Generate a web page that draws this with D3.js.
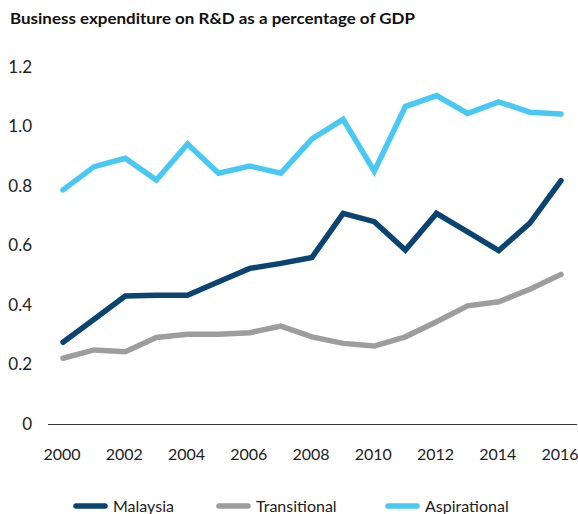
<!DOCTYPE html>
<html><head><meta charset="utf-8">
<script src="https://cdn.jsdelivr.net/npm/d3@7"></script>
<style>body{margin:0;background:#fff}svg{display:block}text{font-family:Lato,"Noto Sans",sans-serif}</style>
</head><body><svg id="c" width="578" height="514"></svg>
<script>
const years = [2000,2001,2002,2003,2004,2005,2006,2007,2008,2009,2010,2011,2012,2013,2014,2015,2016];
const malaysia = [0.275,0.352,0.43,0.433,0.433,0.478,0.523,0.540,0.560,0.708,0.680,0.585,0.708,0.646,0.583,0.675,0.818];
const transitional = [0.221,0.249,0.243,0.291,0.302,0.302,0.307,0.329,0.293,0.271,0.262,0.293,0.344,0.397,0.411,0.453,0.503];
const aspirational = [0.787,0.865,0.893,0.820,0.941,0.843,0.867,0.843,0.958,1.024,0.850,1.067,1.104,1.044,1.083,1.048,1.042];
const yTicks = [0,0.2,0.4,0.6,0.8,1.0,1.2];
const xTicks = [2000,2002,2004,2006,2008,2010,2012,2014,2016];
const seriesNames = ["Malaysia","Transitional","Aspirational"];
const colors = ["#0b4471","#9d9d9f","#4ac8f4"];

const svg = d3.select("#c");
const x = d3.scaleLinear().domain([2000,2016]).range([63,561]);
const y = d3.scaleLinear().domain([0,1.2]).range([424,67]);

svg.append("text").attr("x",10).attr("y",24).attr("font-size",16).attr("font-weight",700).attr("fill","#111")
  .attr("textLength",405).attr("lengthAdjust","spacingAndGlyphs")
  .text("Business expenditure on R&D as a percentage of GDP");

svg.append("g").selectAll("text").data(yTicks).join("text")
  .attr("x",32).attr("y",d=>y(d)).attr("dy","0.35em").attr("text-anchor","end")
  .attr("font-size",17).attr("fill","#222")
  .text(d=>d===0?"0":d3.format(".1f")(d));

svg.append("line").attr("x1",48).attr("x2",577).attr("y1",y(0)+0.5).attr("y2",y(0)+0.5)
  .attr("stroke","#333").attr("stroke-width",1);

svg.append("g").selectAll("text").data(xTicks).join("text")
  .attr("x",d=>x(d)-1).attr("y",460).attr("text-anchor","middle")
  .attr("font-size",16).attr("fill","#222").text(d=>d);

const line = d3.line().x((d,i)=>x(years[i])).y(d=>y(d));
const all = [malaysia,transitional,aspirational];
[1,0,2].forEach(k=>{
  svg.append("path").attr("d",line(all[k])).attr("fill","none")
    .attr("stroke",colors[k]).attr("stroke-width",5.5)
    .attr("stroke-linejoin","miter").attr("stroke-linecap","round");
});

const legX = [74,217,386];
seriesNames.forEach((n,i)=>{
  svg.append("line").attr("x1",legX[i]+2).attr("x2",legX[i]+31).attr("y1",506).attr("y2",506)
    .attr("stroke",colors[i]).attr("stroke-width",5.5).attr("stroke-linecap","round");
  svg.append("text").attr("x",legX[i]+39).attr("y",506).attr("dy","0.35em")
    .attr("font-size",16).attr("fill","#222").text(n);
});
</script></body></html>
